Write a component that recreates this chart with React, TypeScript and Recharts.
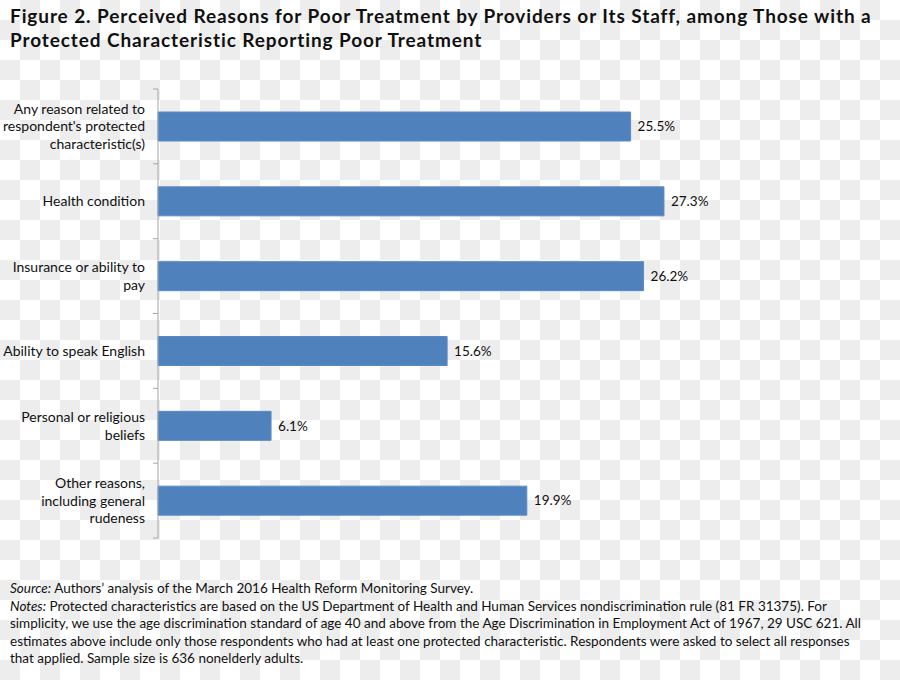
import React from "react";
import { Bar, BarChart, LabelList, XAxis, YAxis } from "recharts";

const categories = [
  "Any reason related to\nrespondent's protected\ncharacteristic(s)",
  "Health condition",
  "Insurance or ability to\npay",
  "Ability to speak English",
  "Personal or religious\nbeliefs",
  "Other reasons,\nincluding general\nrudeness",
];
const values = [25.5, 27.3, 26.2, 15.6, 6.1, 19.9];

const titleLines = [
  "Figure 2. Perceived Reasons for Poor Treatment by Providers or Its Staff, among Those with a",
  "Protected Characteristic Reporting Poor Treatment",
];

const noteLines = [
  "Protected characteristics are based on the US Department of Health and Human Services nondiscrimination rule (81 FR 31375). For",
  "simplicity, we use the age discrimination standard of age 40 and above from the Age Discrimination in Employment Act of 1967, 29 USC 621. All",
  "estimates above include only those respondents who had at least one protected characteristic. Respondents were asked to select all responses",
  "that applied. Sample size is 636 nonelderly adults.",
];

const data = categories.map((name, i) => ({ name, value: values[i] }));

const FONT = "Lato, 'Noto Sans', sans-serif";

const CategoryTick = (props: any) => {
  const { x, y, payload, index } = props;
  const lines = String(payload.value).split("\n");
  const half = payload.offset || 37.4;
  const axisX = x + 13;
  return (
    <g>
      <line x1={axisX - 5} x2={axisX} y1={y - half} y2={y - half} stroke="#a6a6a6" />
      {index === categories.length - 1 && (
        <line x1={axisX - 5} x2={axisX} y1={y + half} y2={y + half} stroke="#a6a6a6" />
      )}
      <text x={x} y={y} textAnchor="end" fill="#111" fontSize={14} fontFamily={FONT}>
        {lines.map((l, i) => (
          <tspan key={i} x={x} dy={i === 0 ? -((lines.length - 1) / 2) * 17.5 + 5 : 17.5}>
            {l}
          </tspan>
        ))}
      </text>
    </g>
  );
};

export default function App() {
  return (
    <div
      style={{
        position: "absolute",
        left: 0,
        top: 0,
        width: 900,
        height: 680,
        overflow: "hidden",
        backgroundColor: "#fff",
        backgroundImage: "conic-gradient(#ededed 0 25%, #fff 0 50%, #ededed 0 75%, #fff 0)",
        backgroundSize: "40px 40px",
        fontFamily: FONT,
        color: "#111",
      }}
    >
      <div
        style={{
          position: "absolute",
          left: 10,
          top: 4,
          fontSize: 19,
          letterSpacing: 0.9,
          fontWeight: 700,
          lineHeight: "24px",
          whiteSpace: "nowrap",
        }}
      >
        {titleLines.map((t, i) => (
          <div key={i}>{t}</div>
        ))}
      </div>
      <div style={{ position: "absolute", left: 0, top: 0 }}>
        <BarChart
          width={900}
          height={680}
          layout="vertical"
          data={data}
          margin={{ top: 89, right: 186, bottom: 142, left: 0 }}
        >
          <XAxis type="number" domain={[0, 30]} hide />
          <YAxis
            type="category"
            dataKey="name"
            width={158}
            tickSize={5}
            tickMargin={8}
            tickLine={false}
            axisLine={{ stroke: "#a6a6a6" }}
            tick={<CategoryTick />}
            interval={0}
          />
          <Bar dataKey="value" fill="#4f81bd" stroke="#5a8ac6" barSize={29} isAnimationActive={false}>
            <LabelList
              dataKey="value"
              position="right"
              offset={7}
              formatter={(v: any) => `${Number(v).toFixed(1)}%`}
              style={{ fill: "#111", fontSize: 13.5, fontFamily: FONT }}
            />
          </Bar>
        </BarChart>
      </div>
      <div style={{ position: "absolute", left: 10, top: 580, fontSize: 13.5, lineHeight: "17.5px", whiteSpace: "nowrap" }}>
        <div>
          <i>Source:</i> Authors’ analysis of the March 2016 Health Reform Monitoring Survey.
        </div>
        <div>
          <i>Notes:</i> {noteLines[0]}
        </div>
        {noteLines.slice(1).map((l, i) => (
          <div key={i}>{l}</div>
        ))}
      </div>
    </div>
  );
}
